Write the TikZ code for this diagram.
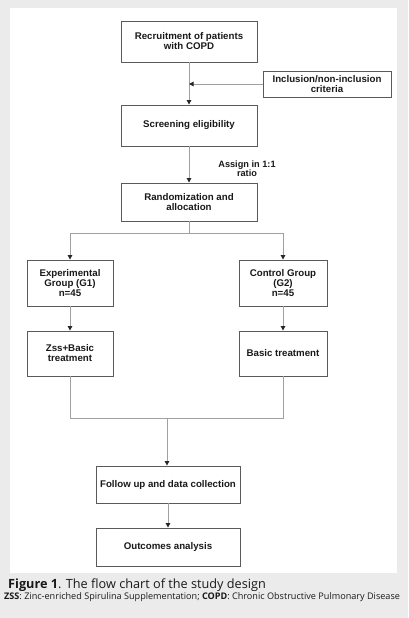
\documentclass[tikz,border=0pt]{standalone}
\usepackage{fontspec}
\setmainfont{Liberation Sans}
\newfontfamily\capfont{Open Sans}
\usetikzlibrary{arrows.meta}
\definecolor{bggray}{HTML}{EBEBEB}
\definecolor{boxline}{HTML}{5A5A5A}
\definecolor{conline}{HTML}{A0A0A0}
\tikzset{
  fbox/.style={draw=boxline, line width=0.9pt, fill=white, align=center, inner sep=1pt,
    font=\fontsize{9.7}{10}\selectfont\bfseries, text=black!90},
  conn/.style={draw=conline, line width=1pt},
  arr/.style={conn, -{Triangle[width=4.5pt,length=4.5pt,color=black!85]}},
}
\begin{document}
\begin{tikzpicture}[x=1pt,y=-1pt]
\useasboundingbox (0,0) rectangle (408,618);
\fill[bggray] (0,0) rectangle (408,618);
\fill[white] (10,8) rectangle (397,573);

\node[fbox, minimum width=136pt, minimum height=41pt] (rec) at (189,41.5) {Recruitment of patients\\with COPD};
\node[fbox, minimum width=128pt, minimum height=26pt] (inc) at (327,84) {Inclusion/non-inclusion\\criteria};
\node[fbox, minimum width=136pt, minimum height=41pt] (scr) at (189,125.5) {Screening eligibility};
\node[fbox, minimum width=136pt, minimum height=38pt] (ran) at (189,202) {Randomization and\\allocation};
\node[fbox, minimum width=86pt, minimum height=46pt] (exp) at (70,283) {Experimental\\Group (G1)\\n=45};
\node[fbox, minimum width=88pt, minimum height=46pt] (ctl) at (283,283) {Control Group\\(G2)\\n=45};
\node[fbox, minimum width=86pt, minimum height=45pt] (zss) at (70,353.5) {Zss+Basic\\treatment};
\node[fbox, minimum width=88pt, minimum height=45pt] (bas) at (283,353.5) {Basic treatment};
\node[fbox, minimum width=144pt, minimum height=37pt] (fol) at (168,484.5) {Follow up and data collection};
\node[fbox, minimum width=144pt, minimum height=38pt] (out) at (168,547) {Outcomes analysis};

\node[font=\fontsize{9.2}{9.5}\selectfont\bfseries, text=black!90, align=center] (asg) at (247,168.5) {Assign in 1:1\\ratio};

\coordinate (j1) at (189,84);
\coordinate (b1) at (189,233);
\coordinate (m1) at (167,418);

\draw[arr] (rec.south) -- (scr.north);
\draw[arr] (inc.west) -- (j1);
\draw[arr] (scr.south) -- (ran.north);
\draw[conn] (ran.south) -- (b1);
\draw[arr] (b1) -| (exp.north);
\draw[arr] (b1) -| (ctl.north);
\draw[arr] (exp.south) -- (zss.north);
\draw[arr] (ctl.south) -- (bas.north);
\draw[conn] (zss.south) |- (m1);
\draw[conn] (bas.south) |- (m1);
\draw[arr] (m1) -- (m1 |- fol.north);
\draw[arr] (fol.south) -- (out.north);

\node[anchor=west, inner sep=0pt, font=\capfont\fontsize{12.7}{14}\selectfont, text=black!90] (cap) at (8,585) {\textbf{Figure 1}. The flow chart of the study design};
\node[anchor=west, inner sep=0pt, font=\capfont\fontsize{9.1}{10}\selectfont, text=black!90] (leg) at (4,597) {\textbf{ZSS}: Zinc-enriched Spirulina Supplementation; \textbf{COPD}: Chronic Obstructive Pulmonary Disease};
\end{tikzpicture}
\end{document}
